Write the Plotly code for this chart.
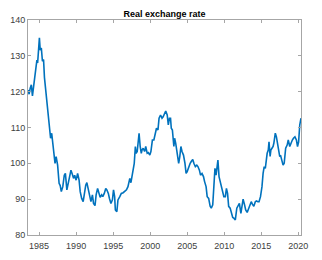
import plotly.graph_objects as go

years = [1983.50, 1983.65, 1983.80, 1983.95, 1984.10, 1984.25, 1984.40, 1984.55, 1984.70, 1984.80,
         1984.90, 1985.04, 1985.15, 1985.30, 1985.45, 1985.60, 1985.72, 1985.85, 1986.00, 1986.20,
         1986.30, 1986.40, 1986.55, 1986.70, 1986.85, 1987.00, 1987.15, 1987.30, 1987.50, 1987.70,
         1987.85, 1988.00, 1988.20, 1988.40, 1988.55, 1988.75, 1988.90, 1989.10, 1989.30, 1989.45,
         1989.65, 1989.80, 1990.00, 1990.20, 1990.40, 1990.55, 1990.75, 1990.95, 1991.10, 1991.30,
         1991.45, 1991.60, 1991.80, 1992.00, 1992.20, 1992.35, 1992.55, 1992.70, 1992.90, 1993.10,
         1993.25, 1993.45, 1993.60, 1993.80, 1994.00, 1994.15, 1994.35, 1994.50, 1994.70, 1994.90,
         1995.05, 1995.20, 1995.30, 1995.50, 1995.65, 1995.90, 1996.10, 1996.35, 1996.55, 1996.80,
         1997.00, 1997.25, 1997.40, 1997.55, 1997.70, 1997.85, 1998.00, 1998.10, 1998.25, 1998.40,
         1998.50, 1998.65, 1998.80, 1998.90, 1999.05, 1999.25, 1999.40, 1999.60, 1999.75, 1999.95,
         2000.10, 2000.30, 2000.50, 2000.70, 2000.85, 2001.05, 2001.20, 2001.40, 2001.60, 2001.75,
         2001.95, 2002.10, 2002.30, 2002.45, 2002.60, 2002.75, 2002.85, 2003.00, 2003.20, 2003.30,
         2003.45, 2003.60, 2003.75, 2003.85, 2004.00, 2004.15, 2004.30, 2004.50, 2004.70, 2004.85,
         2005.00, 2005.20, 2005.40, 2005.55, 2005.75, 2005.90, 2006.10, 2006.30, 2006.45, 2006.65,
         2006.80, 2007.00, 2007.20, 2007.35, 2007.55, 2007.70, 2007.90, 2008.10, 2008.25, 2008.45,
         2008.60, 2008.75, 2008.90, 2009.00, 2009.15, 2009.30, 2009.45, 2009.60, 2009.80, 2009.95,
         2010.15, 2010.30, 2010.45, 2010.60, 2010.80, 2010.95, 2011.15, 2011.30, 2011.50, 2011.70,
         2011.85, 2012.05, 2012.25, 2012.40, 2012.55, 2012.75, 2012.90, 2013.10, 2013.30, 2013.45,
         2013.65, 2013.80, 2014.00, 2014.20, 2014.35, 2014.55, 2014.70, 2014.90, 2015.10, 2015.25,
         2015.40, 2015.55, 2015.70, 2015.80, 2015.95, 2016.05, 2016.20, 2016.30, 2016.45, 2016.60,
         2016.70, 2016.90, 2017.05, 2017.20, 2017.35, 2017.50, 2017.60, 2017.80, 2017.95, 2018.10,
         2018.30, 2018.50, 2018.65, 2018.85, 2019.00, 2019.20, 2019.35, 2019.55, 2019.75, 2019.90,
         2020.05, 2020.20, 2020.37]

rer = [120.5, 119.3, 121.0, 121.9, 118.8, 121.0, 124.5, 126.5, 128.8, 128.0,
       131.5, 135.0, 131.6, 132.2, 128.5, 129.0, 124.0, 121.4, 116.7, 112.6,
       111.2, 109.3, 107.0, 108.4, 105.6, 103.3, 100.0, 101.9, 99.5, 94.4,
       93.8, 92.1, 93.5, 96.7, 97.2, 92.6, 94.0, 95.3, 98.1, 97.2,
       95.8, 96.7, 95.3, 97.2, 95.3, 92.1, 90.2, 89.3, 91.6, 93.9,
       94.6, 93.0, 90.7, 89.3, 91.2, 88.8, 88.2, 91.2, 93.0, 91.6,
       90.5, 91.2, 90.7, 91.6, 93.0, 92.6, 91.6, 90.2, 88.8, 89.8,
       92.6, 90.7, 87.0, 86.5, 89.8, 90.7, 91.6, 91.8, 92.1, 92.6,
       93.5, 95.8, 94.6, 96.7, 97.7, 100.0, 104.7, 102.8, 103.3, 106.5,
       108.4, 104.7, 102.8, 103.7, 104.2, 103.3, 104.7, 102.8, 103.0, 102.3,
       103.3, 106.5, 106.5, 108.4, 109.8, 109.3, 112.6, 113.5, 112.6, 113.0,
       114.0, 114.6, 113.5, 110.7, 112.6, 112.6, 109.8, 109.3, 104.7, 107.0,
       105.6, 102.8, 101.9, 100.0, 101.9, 104.7, 103.3, 102.3, 100.0, 97.2,
       97.7, 99.1, 100.0, 100.5, 101.1, 100.0, 99.1, 99.5, 99.1, 98.1,
       96.7, 97.2, 96.3, 94.9, 93.5, 90.7, 90.2, 88.0, 87.5, 88.4,
       93.5, 98.6, 96.7, 99.1, 100.9, 96.3, 94.9, 93.5, 91.2, 90.7,
       90.7, 93.0, 91.6, 88.0, 87.5, 86.0, 84.9, 84.7, 84.2, 87.5,
       88.0, 88.8, 86.0, 87.5, 90.0, 88.4, 87.0, 86.3, 87.5, 88.0,
       89.3, 88.6, 88.0, 89.3, 89.5, 89.3, 89.3, 90.7, 93.5, 97.2,
       99.1, 98.6, 101.9, 102.8, 103.7, 106.0, 101.9, 103.7, 104.2, 104.7,
       105.6, 108.4, 107.4, 105.6, 102.8, 101.9, 102.3, 100.9, 99.5, 100.0,
       104.2, 105.1, 106.5, 104.7, 105.6, 106.5, 107.0, 107.4, 106.5, 104.7,
       106.0, 110.7, 112.6]

x_ticks = [1985, 1990, 1995, 2000, 2005, 2010, 2015, 2020]
y_ticks = [80, 90, 100, 110, 120, 130, 140]

fig = go.Figure()
fig.add_trace(go.Scatter(x=years, y=rer, mode="lines",
                         line=dict(color="#0072BD", width=1.6),
                         showlegend=False, hoverinfo="skip"))

axis_common = dict(showgrid=False, zeroline=False, showline=True, mirror="ticks",
                   linecolor="#a6a6a6", linewidth=1, ticks="inside", ticklen=3,
                   tickcolor="#a6a6a6", tickwidth=1, automargin=False,
                   tickfont=dict(family="Liberation Sans, Arial, sans-serif", size=9, color="#404040"))

fig.update_xaxes(range=[years[0], years[-1]], tickvals=x_ticks,
                 ticktext=[str(t) for t in x_ticks], ticklabelstandoff=2, **axis_common)
fig.update_yaxes(range=[80, 140], tickvals=y_ticks,
                 ticktext=[str(t) for t in y_ticks], **axis_common)

fig.update_layout(
    width=322, height=260,
    margin=dict(l=28, r=21, t=20, b=25, autoexpand=False),
    paper_bgcolor="white", plot_bgcolor="white",
    title=dict(text="<b>Real exchange rate</b>", x=0.5, xanchor="center",
               xref="paper", y=(260 - 13.5) / 260, yref="container", yanchor="middle",
               font=dict(family="Liberation Sans, Arial, sans-serif", size=9, color="#000000")),
)

fig.write_html("out.html", config={"displayModeBar": False},
               post_script="document.body.style.margin='0';document.body.style.overflow='hidden';")
